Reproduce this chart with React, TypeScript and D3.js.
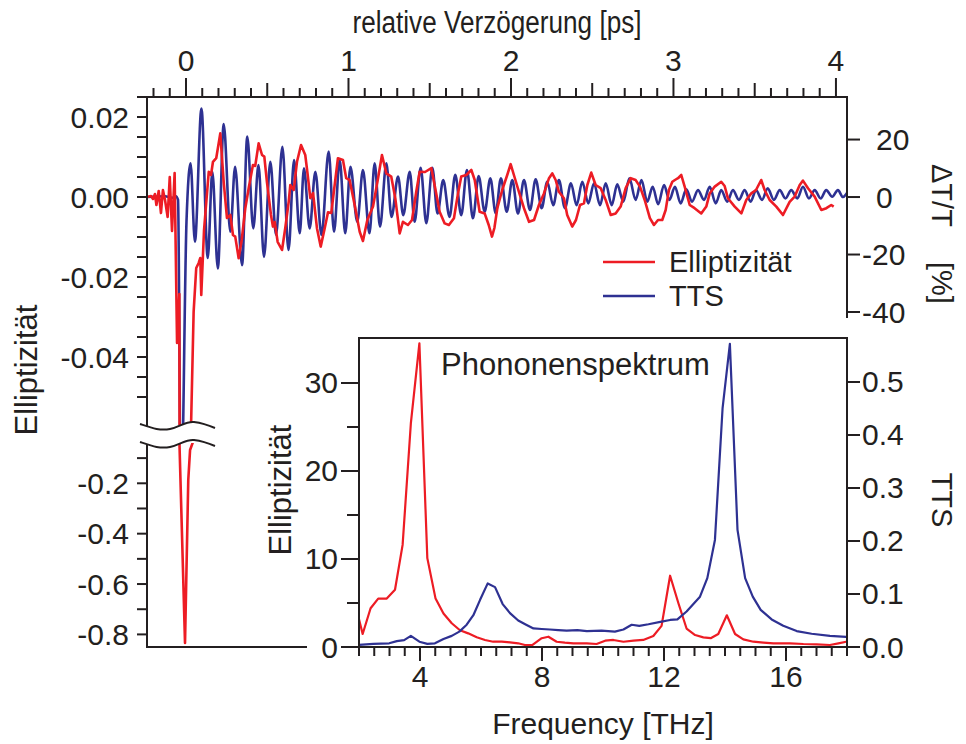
import React from 'react';
import * as d3 from 'd3';

// ---------- data ----------
// main panel: relative delay [ps] vs ellipticity
const ellipticityTrace: [number, number][] = [
  [-0.240,0],[-0.215,0.00025],[-0.203,-0.0005],[-0.191,0.00075],[-0.182,-0.002],[-0.168,0.0015],[-0.154,-0.004],[-0.142,0.00175],[-0.129,-0.00075],[-0.113,-0.005],[-0.100,0.005],[-0.086,-0.0085],[-0.070,0.006],[-0.055,-0.0365],[-0.041,-0.02425],[-0.006,-0.834],[0.014,-0.187],[0.025,-0.068],[0.047,-0.0287],[0.063,-0.01775],[0.078,-0.0165],[0.088,-0.01525],[0.094,-0.0245],[0.111,-0.00825],[0.140,0.0063],[0.154,0.0055],[0.166,0.0088],[0.186,0.0097],[0.211,0.0159],[0.232,0.0038],[0.252,-0.00525],[0.273,-0.0045],[0.289,-0.0095],[0.303,-0.0099],[0.324,-0.0153],[0.343,-0.01075],[0.365,-0.0028],[0.386,0.00225],[0.412,0.008],[0.426,0.00775],[0.447,0.0134],[0.468,0.0105],[0.482,0.0101],[0.498,0.0038],[0.523,-0.0045],[0.535,-0.0074],[0.546,-0.00625],[0.564,-0.0112],[0.591,-0.01325],[0.611,-0.00775],[0.632,-0.0012],[0.642,0.003],[0.663,0.00175],[0.683,0.0088],[0.708,0.013],[0.734,0.0105],[0.749,0.0055],[0.765,-0.0003],[0.782,0.001],[0.806,-0.0078],[0.829,-0.0124],[0.854,-0.00775],[0.874,-0.0038],[0.894,-0.004],[0.915,0.003],[0.935,0.0097],[0.966,0.00925],[0.986,0.0047],[1.007,0.00425],[1.038,-0.002],[1.069,-0.0087],[1.089,-0.011],[1.116,-0.00575],[1.151,-0.0024],[1.182,0.0047],[1.206,0.0105],[1.233,0.0059],[1.263,0.0051],[1.288,-0.0003],[1.315,-0.0091],[1.335,-0.0062],[1.366,-0.007],[1.391,-0.00575],[1.417,0.0013],[1.438,0.0063],[1.471,0.00625],[1.510,0.0072],[1.530,0.003],[1.561,-0.0037],[1.592,-0.0066],[1.618,-0.007],[1.649,-0.0053],[1.674,0.0009],[1.694,0.0051],[1.725,0.0055],[1.756,0.00675],[1.777,0.00425],[1.807,-0.0037],[1.838,-0.0041],[1.863,-0.007],[1.883,-0.0099],[1.898,-0.00775],[1.916,-0.0028],[1.946,0.00175],[1.977,0.0055],[1.998,0.0082],[2.018,0.0055],[2.049,0.0013],[2.080,-0.0028],[2.111,-0.0062],[2.142,-0.00575],[2.172,-0.002],[2.203,0.0009],[2.234,0.0047],[2.254,0.0059],[2.275,0.00425],[2.295,0.0013],[2.326,-0.0003],[2.346,-0.0045],[2.377,-0.0074],[2.400,-0.00575],[2.425,-0.002],[2.449,-0.0016],[2.470,0.003],[2.494,0.0061],[2.521,0.003],[2.552,0.0022],[2.583,-0.00075],[2.614,-0.0045],[2.644,-0.0041],[2.675,-0.0024],[2.706,0.0022],[2.737,0.0047],[2.767,0.00425],[2.794,0.0026],[2.823,-0.00075],[2.855,-0.0053],[2.880,-0.007],[2.905,-0.00575],[2.931,-0.00575],[2.952,-0.00325],[2.972,0.00175],[2.993,0.0038],[3.009,0.00425],[3.028,0.0047],[3.048,0.0055],[3.069,0.0026],[3.100,-0.002],[3.130,-0.0028],[3.171,-0.0041],[3.202,-0.0024],[3.223,0.0009],[3.254,0.0026],[3.294,0.0038],[3.315,0.00275],[3.335,-0.0003],[3.377,-0.0024],[3.418,-0.0041],[3.448,-0.00075],[3.479,0.0009],[3.508,0.00175],[3.540,0.00425],[3.561,0.00175],[3.592,-0.00075],[3.633,-0.0024],[3.674,-0.0045],[3.715,-0.0012],[3.746,0.0001],[3.777,0.003],[3.797,0.0041],[3.828,0.0022],[3.869,0.0001],[3.910,-0.00325],[3.941,-0.0028],[3.971,-0.002],[3.986,-0.0024]
];

// main panel: relative delay [ps] vs TTS  dT/T [%]
const ttsTrace: [number, number][] = [
  [-0.240,0],[-0.129,0.3],[-0.086,-0.3],[-0.062,0.3],[-0.049,-1.0],[-0.031,-110],[0.003,-8.6],[0.028,11.7],[0.055,-15.5],[0.095,30.8],[0.134,-21.2],[0.162,8.8],[0.196,-24.8],[0.232,25.4],[0.273,-12.1],[0.302,10.5],[0.345,-23.7],[0.377,21.0],[0.414,-10.9],[0.446,11.1],[0.480,-20.8],[0.519,12.3],[0.554,-13.2],[0.593,17.5],[0.631,-18.4],[0.665,12.9],[0.700,-12.6],[0.726,10.0],[0.761,-10.9],[0.796,8.8],[0.834,-13.2],[0.878,15.8],[0.911,-12.1],[0.946,12.9],[0.980,-12.6],[1.012,10.5],[1.054,-8.6],[1.089,9.4],[1.129,-12.6],[1.161,11.7],[1.194,-10.3],[1.233,11.7],[1.265,-6.9],[1.305,7.1],[1.337,-6.3],[1.377,8.8],[1.407,-8.6],[1.444,10.2],[1.479,-9.1],[1.516,10.2],[1.548,-5.7],[1.583,5.9],[1.622,-6.9],[1.657,7.7],[1.694,-6.3],[1.729,9.4],[1.766,-7.4],[1.801,7.3],[1.838,-5.1],[1.873,6.5],[1.906,-5.6],[1.938,6.5],[1.974,-5.1],[2.008,5.9],[2.043,-5.7],[2.080,5.9],[2.117,-4.5],[2.152,6.2],[2.189,-3.9],[2.223,5.3],[2.260,-2.8],[2.295,5.9],[2.332,-3.9],[2.369,4.8],[2.404,-2.8],[2.439,5.3],[2.476,-2.2],[2.511,4.8],[2.548,-2.8],[2.583,4.8],[2.620,-2.8],[2.654,4.4],[2.691,-1.6],[2.729,6.5],[2.767,-1.0],[2.803,5.9],[2.839,-1.6],[2.872,3.6],[2.906,-2.5],[2.942,4.2],[2.975,-1.0],[3.009,3.6],[3.044,-2.2],[3.079,2.7],[3.114,-1.6],[3.151,2.4],[3.188,-1.0],[3.223,3.6],[3.260,-2.2],[3.294,2.4],[3.331,-1.6],[3.366,2.4],[3.403,-1.0],[3.438,2.4],[3.475,-1.6],[3.508,2.4],[3.545,-1.0],[3.580,3.0],[3.618,-1.0],[3.654,2.4],[3.689,-0.5],[3.725,2.4],[3.762,-0.5],[3.797,3.6],[3.834,-0.5],[3.869,2.4],[3.906,-0.5],[3.940,2.4],[3.977,0.1],[4.012,2.4],[4.043,0],[4.068,1.4]
];

// inset: frequency [THz] vs ellipticity spectrum
const ellipticitySpectrum: [number, number][] = [
  [2.0,3.15],[2.12,1.48],[2.38,4.4],[2.63,5.5],[2.91,5.5],[3.18,6.5],[3.43,11.6],[3.70,25.4],[3.98,34.5],[4.24,10.1],[4.51,5.5],[4.77,3.8],[5.04,2.7],[5.31,1.9],[5.58,1.55],[5.86,1.1],[6.13,0.8],[6.40,0.6],[6.68,0.6],[6.95,0.53],[7.22,0.42],[7.44,0.23],[7.69,0.23],[7.99,1.0],[8.21,1.17],[8.48,0.6],[8.75,0.5],[9.03,0.42],[9.47,0.42],[9.79,0.34],[10.07,0.72],[10.34,0.8],[10.67,0.6],[11.0,0.72],[11.32,0.8],[11.65,1.25],[11.92,2.4],[12.20,8.1],[12.47,5.0],[12.74,2.1],[13.02,1.36],[13.29,1.1],[13.53,1.0],[13.78,1.48],[14.06,3.6],[14.33,1.48],[14.60,0.87],[14.93,0.6],[15.26,0.5],[15.59,0.42],[16.13,0.42],[16.57,0.34],[17.0,0.3],[17.44,0.23],[17.72,0.42],[17.97,0.6]
];

// inset: frequency [THz] vs TTS spectrum
const ttsSpectrum: [number, number][] = [
  [2.0,0.004],[2.47,0.006],[2.99,0.007],[3.24,0.011],[3.48,0.013],[3.70,0.021],[3.98,0.010],[4.24,0.006],[4.49,0.007],[4.77,0.015],[5.04,0.021],[5.29,0.029],[5.53,0.042],[5.75,0.060],[5.97,0.089],[6.22,0.120],[6.46,0.113],[6.71,0.081],[6.95,0.064],[7.22,0.050],[7.48,0.042],[7.72,0.035],[7.99,0.034],[8.26,0.033],[8.53,0.032],[8.81,0.031],[9.16,0.032],[9.47,0.030],[9.95,0.031],[10.39,0.029],[10.67,0.033],[10.94,0.042],[11.19,0.040],[11.49,0.043],[11.92,0.048],[12.20,0.051],[12.44,0.052],[12.74,0.067],[13.18,0.095],[13.42,0.130],[13.67,0.202],[13.92,0.450],[14.16,0.572],[14.41,0.221],[14.66,0.130],[14.91,0.095],[15.17,0.070],[15.53,0.052],[15.91,0.040],[16.35,0.030],[16.84,0.025],[17.44,0.021],[17.97,0.019]
];

// tick labels
const topTicks = [0, 1, 2, 3, 4];
const leftUpperTicks = [0.02, 0, -0.02, -0.04];
const leftUpperLabels = ['0.02', '0.00', '-0.02', '-0.04'];
const leftLowerTicks = [-0.2, -0.4, -0.6, -0.8];
const leftLowerLabels = ['-0.2', '-0.4', '-0.6', '-0.8'];
const rightTicks = [20, 0, -20, -40];
const insetLeftTicks = [0, 10, 20, 30];
const insetRightTicks = [0, 0.1, 0.2, 0.3, 0.4, 0.5];
const insetRightLabels = ['0.0', '0.1', '0.2', '0.3', '0.4', '0.5'];
const insetBottomTicks = [4, 8, 12, 16];

const FONT = "'Liberation Sans', Arial, Helvetica, sans-serif";
const RED = '#ED1C24';
const BLUE = '#2E3192';
const AX = '#231F20';

export default function App() {
  // main panel scales
  const x = d3.scaleLinear().domain([-0.24, 4.068]).range([147, 847]);
  const yUp = d3.scaleLinear().domain([-0.057, 0.025]).range([425, 97]);
  const yLow = d3.scaleLinear().domain([-0.85, -0.04]).range([647, 443]);
  const yR = d3.scaleLinear().domain([-79.3, 34.8]).range([425, 97]);
  // inset scales
  const fx = d3.scaleLinear().domain([2, 18]).range([359, 847]);
  const eY = d3.scaleLinear().domain([0, 35.11]).range([647, 338]);
  const tY = d3.scaleLinear().domain([0, 0.583]).range([647, 338]);

  const redUp = d3.line<[number, number]>().x(d => x(d[0])).y(d => yUp(d[1]))(ellipticityTrace) || '';
  const redLow = d3.line<[number, number]>().x(d => x(d[0])).y(d => yLow(d[1]))(ellipticityTrace) || '';
  const blueUp = d3.line<[number, number]>().x(d => x(d[0])).y(d => yR(d[1])).curve(d3.curveMonotoneX)(ttsTrace) || '';
  const redSpec = d3.line<[number, number]>().x(d => fx(d[0])).y(d => eY(d[1]))(ellipticitySpectrum) || '';
  const blueSpec = d3.line<[number, number]>().x(d => fx(d[0])).y(d => tY(d[1]))(ttsSpectrum) || '';

  const topMinor = d3.range(-2, 41).map(i => i);
  const upperMinor = d3.range(-10, 6).map(i => i * 0.005);
  const lowerMinor = d3.range(1, 9).map(i => -i * 0.1);
  const insetLeftMinor = d3.range(0, 7).map(i => i * 5);
  const insetBottomMinor = d3.range(4, 37).map(i => i * 0.5);

  const wave = (dy: number) =>
    `M140,${424 + dy} C152,${428 + dy} 160,${431 + dy} 170,${429 + dy} C180,${427 + dy} 186,${421 + dy} 194,${422 + dy} C202,${423 + dy} 208,${425 + dy} 215,${428 + dy}`;
  const gap =
    `M140,${424} C152,428 160,431 170,429 C180,427 186,421 194,422 C202,423 208,425 215,428 ` +
    `L215,446 C208,443 202,441 194,440 C186,439 180,445 170,447 C160,449 152,446 140,442 Z`;

  const sw = 2;
  const txt = { fontFamily: FONT, fill: AX } as const;

  return (
    <svg width={966} height={744} style={{ position: 'absolute', left: 0, top: 0, background: '#fff' }}>
      <defs>
        <clipPath id="clipUp"><rect x={147} y={97} width={700} height={328} /></clipPath>
        <clipPath id="clipLow"><rect x={147} y={443} width={212} height={206} /></clipPath>
      </defs>
      <rect x={0} y={0} width={966} height={744} fill="#fff" />

      {/* data: main panel */}
      <g clipPath="url(#clipUp)">
        <path d={blueUp} fill="none" stroke={BLUE} strokeWidth={2.6} strokeLinejoin="round" />
        <path d={redUp} fill="none" stroke={RED} strokeWidth={2.6} strokeLinejoin="round" />
      </g>
      <g clipPath="url(#clipLow)">
        <path d={redLow} fill="none" stroke={RED} strokeWidth={2.6} strokeLinejoin="round" />
      </g>

      {/* main frame */}
      <line x1={147} y1={97} x2={847} y2={97} stroke={AX} strokeWidth={sw} />
      <line x1={147} y1={96} x2={147} y2={648} stroke={AX} strokeWidth={sw} />
      <line x1={847} y1={96} x2={847} y2={318} stroke={AX} strokeWidth={sw} />
      <line x1={146} y1={647} x2={307} y2={647} stroke={AX} strokeWidth={sw} />

      {/* top axis ticks */}
      {topMinor.map(i => {
        const len = i % 10 === 0 ? 19 : i % 5 === 0 ? 14 : 9;
        return <line key={'tt' + i} x1={x(i / 10)} x2={x(i / 10)} y1={97} y2={97 - len} stroke={AX} strokeWidth={sw} />;
      })}
      {topTicks.map(t => (
        <text key={'tl' + t} x={x(t)} y={71} textAnchor="middle" fontSize={30} {...txt}>{t}</text>
      ))}
      <text x={497} y={33} textAnchor="middle" fontSize={31} textLength={289} lengthAdjust="spacingAndGlyphs" {...txt}>relative Verzögerung [ps]</text>

      {/* left axis ticks */}
      {upperMinor.map((v, i) => (
        <line key={'lu' + i} x1={137} x2={147} y1={yUp(v)} y2={yUp(v)} stroke={AX} strokeWidth={sw} />
      ))}
      {lowerMinor.map((v, i) => (
        <line key={'ll' + i} x1={137} x2={147} y1={yLow(v)} y2={yLow(v)} stroke={AX} strokeWidth={sw} />
      ))}
      {leftUpperTicks.map((v, i) => (
        <text key={'lut' + i} x={129} y={yUp(v)} dy="0.35em" textAnchor="end" fontSize={30} {...txt}>{leftUpperLabels[i]}</text>
      ))}
      {leftLowerTicks.map((v, i) => (
        <text key={'llt' + i} x={129} y={yLow(v)} dy="0.35em" textAnchor="end" fontSize={30} {...txt}>{leftLowerLabels[i]}</text>
      ))}
      <text transform="translate(37,370) rotate(-90)" textAnchor="middle" fontSize={31} {...txt}>Elliptizität</text>

      {/* axis break */}
      <path d={gap} fill="#fff" stroke="none" />
      <path d={wave(0)} fill="none" stroke={AX} strokeWidth={sw} />
      <path d={wave(18)} fill="none" stroke={AX} strokeWidth={sw} />

      {/* right axis main */}
      {rightTicks.map(v => (
        <line key={'rt' + v} x1={847} x2={860} y1={yR(v)} y2={yR(v)} stroke={AX} strokeWidth={sw} />
      ))}
      {rightTicks.map(v => (
        <text key={'rl' + v} x={v < 0 ? 862 : 876} y={yR(v)} dy="0.35em" textAnchor="start" fontSize={30} {...txt}>{String(v)}</text>
      ))}
      <text transform="translate(932,164) rotate(90)" textAnchor="start" fontSize={29} {...txt}>ΔT/T</text>
      <text transform="translate(932,262) rotate(90)" textAnchor="start" fontSize={29} {...txt}>[%]</text>

      {/* legend */}
      <line x1={603} x2={655} y1={262} y2={262} stroke={RED} strokeWidth={2.6} />
      <text x={669} y={262} dy="0.35em" fontSize={29} {...txt}>Elliptizität</text>
      <line x1={603} x2={655} y1={296} y2={296} stroke={BLUE} strokeWidth={2.6} />
      <text x={669} y={296} dy="0.35em" fontSize={29} {...txt}>TTS</text>

      {/* inset */}
      <rect x={359} y={338} width={488} height={309} fill="#fff" />
      <path d={redSpec} fill="none" stroke={RED} strokeWidth={2.2} strokeLinejoin="round" />
      <path d={blueSpec} fill="none" stroke={BLUE} strokeWidth={2.2} strokeLinejoin="round" />
      <rect x={359} y={338} width={488} height={309} fill="none" stroke={AX} strokeWidth={sw} />
      {insetLeftMinor.map(v => (
        <line key={'il' + v} x1={v % 10 === 0 ? 341 : 347} x2={359} y1={eY(v)} y2={eY(v)} stroke={AX} strokeWidth={sw} />
      ))}
      {insetLeftTicks.map(v => (
        <text key={'ilt' + v} x={338} y={eY(v)} dy="0.35em" textAnchor="end" fontSize={30} {...txt}>{v}</text>
      ))}
      {insetRightTicks.map((v, i) => (
        <line key={'ir' + i} x1={847} x2={860} y1={tY(v)} y2={tY(v)} stroke={AX} strokeWidth={sw} />
      ))}
      {insetRightTicks.map((v, i) => (
        <text key={'irt' + i} x={862} y={tY(v)} dy="0.35em" textAnchor="start" fontSize={30} {...txt}>{insetRightLabels[i]}</text>
      ))}
      {insetBottomMinor.map(v => (
        <line key={'ib' + v} x1={fx(v)} x2={fx(v)} y1={647} y2={647 + (v % 4 === 0 ? 14 : 9)} stroke={AX} strokeWidth={sw} />
      ))}
      {insetBottomTicks.map(v => (
        <text key={'ibt' + v} x={fx(v)} y={687} textAnchor="middle" fontSize={30} {...txt}>{v}</text>
      ))}
      <text x={603} y={734} textAnchor="middle" fontSize={30} {...txt}>Frequency [THz]</text>
      <text transform="translate(291,490) rotate(-90)" textAnchor="middle" fontSize={31} {...txt}>Elliptizität</text>
      <text transform="translate(932,500) rotate(90)" textAnchor="middle" fontSize={29} {...txt}>TTS</text>
      <text x={441} y={375} fontSize={31} {...txt}>Phononenspektrum</text>
    </svg>
  );
}
